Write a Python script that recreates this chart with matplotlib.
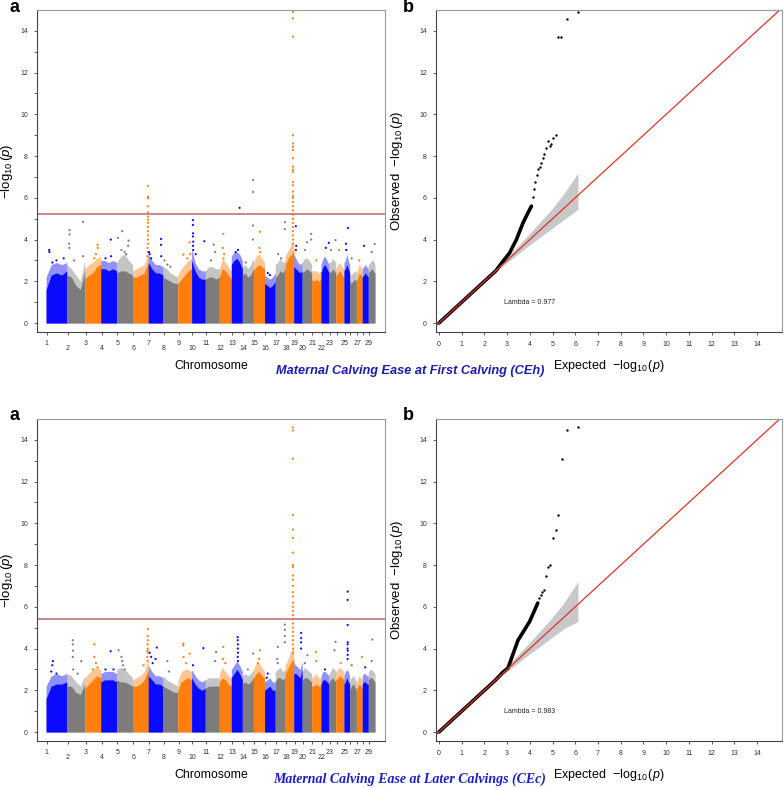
"""Manhattan + QQ plots for maternal calving ease (CEh / CEc)."""

import numpy as np
import matplotlib

matplotlib.use("Agg")
import matplotlib.pyplot as plt

plt.rcParams["font.family"] = ["Liberation Sans", "DejaVu Sans"]
plt.rcParams["mathtext.fontset"] = "custom"
plt.rcParams["mathtext.rm"] = "Liberation Sans"
plt.rcParams["mathtext.it"] = "Liberation Sans:italic"

# bovine autosome lengths (Mb), chromosome 1..29
CHR_LEN = [158, 137, 121, 121, 121, 119, 112, 113, 105, 104, 107, 91, 84, 84, 85,
           81, 75, 66, 64, 72, 71, 61, 52, 62, 43, 51, 45, 46, 51]
CHR_COLORS = ["#0a0aff", "#7c7c7c", "#ff7f0e"]
UNLABELED = [24, 26, 28]

# upper edge of the solid bulk / of the sparse dots, 5 samples along each chromosome
CEH_DENSE = [
    [1.6, 2.3, 2.4, 2.3, 2.5], [2.3, 2.2, 1.8, 1.6, 2.5], [2.1, 2.3, 2.4, 2.7, 2.8],
    [2.6, 2.6, 2.5, 2.6, 2.5], [2.4, 2.5, 2.5, 2.4, 2.3], [2.2, 2.2, 2.3, 2.4, 2.9],
    [2.9, 2.6, 2.4, 2.4, 2.3], [2.2, 2.1, 2.0, 1.9, 1.9], [1.9, 2.1, 2.3, 2.5, 2.6],
    [3.0, 2.5, 2.2, 2.1, 2.1], [2.1, 2.2, 2.2, 2.1, 2.2], [2.2, 2.6, 2.5, 2.3, 2.1],
    [2.8, 3.0, 3.1, 2.9, 2.6], [2.3, 2.4, 2.2, 2.3, 2.6], [2.5, 2.7, 2.8, 2.7, 2.6],
    [1.9, 1.8, 1.7, 1.8, 2.0], [2.2, 2.3, 2.5, 2.4, 2.6], [2.8, 3.0, 3.2, 3.3, 3.5],
    [2.7, 2.6, 2.5, 2.4, 2.5], [2.4, 2.5, 2.6, 2.5, 2.4], [2.1, 2.0, 2.1, 2.0, 2.1],
    [2.4, 2.7, 2.8, 2.6, 2.4], [2.5, 2.4, 2.6, 2.5, 2.4], [2.2, 2.4, 2.5, 2.3, 2.2],
    [2.5, 2.6, 2.8, 2.6, 2.4], [2.0, 1.9, 2.0, 2.1, 2.0], [2.0, 2.2, 2.4, 2.3, 2.2],
    [2.2, 2.3, 2.4, 2.3, 2.2], [2.4, 2.5, 2.6, 2.5, 2.4],
]
CEH_SPARSE = [
    [2.2, 2.8, 2.9, 2.8, 2.9], [2.8, 2.6, 2.3, 2.0, 3.0], [2.6, 2.8, 2.9, 3.1, 3.2],
    [3.0, 3.0, 2.9, 3.0, 2.9], [2.9, 3.2, 3.3, 3.0, 2.8], [2.5, 2.6, 2.7, 2.8, 3.4],
    [3.3, 3.0, 2.8, 2.8, 2.7], [2.7, 2.6, 2.4, 2.3, 2.2], [2.3, 2.6, 2.8, 3.0, 3.1],
    [3.6, 2.9, 2.6, 2.5, 2.5], [2.5, 2.7, 2.7, 2.6, 2.6], [2.6, 3.1, 2.9, 2.7, 2.5],
    [3.2, 3.4, 3.4, 3.3, 3.0], [2.7, 2.8, 2.6, 2.8, 3.1], [2.9, 3.2, 3.3, 3.1, 2.9],
    [2.3, 2.2, 2.1, 2.2, 2.4], [2.8, 2.9, 3.1, 2.9, 3.0], [3.2, 3.4, 3.6, 3.8, 4.0],
    [3.3, 3.1, 2.9, 2.8, 2.9], [2.9, 3.1, 3.1, 3.0, 2.8], [2.5, 2.5, 2.5, 2.4, 2.5],
    [2.8, 3.1, 3.2, 3.0, 2.8], [2.9, 2.9, 3.1, 3.0, 2.9], [2.6, 2.8, 2.9, 2.7, 2.6],
    [2.9, 3.0, 3.3, 3.0, 2.8], [2.4, 2.3, 2.4, 2.5, 2.4], [2.4, 2.6, 2.8, 2.7, 2.6],
    [2.6, 2.7, 2.8, 2.7, 2.6], [2.8, 2.9, 3.0, 3.0, 2.8],
]
# isolated SNPs above the bulk: (chromosome, fraction along chromosome, -log10 p)
CEH_HITS = [
    (1, .15, 3.5), (1, .16, 3.4), (1, .5, 3.0), (1, .3, 2.9), (1, .85, 3.1),
    (2, .15, 4.45), (2, .15, 4.25), (2, .12, 3.8), (2, .14, 3.6), (2, .9, 4.85), (2, .9, 3.2), (2, .4, 3.0),
    (3, .8, 3.75), (3, .82, 3.6), (3, .7, 3.3), (3, .6, 3.1),
    (4, .63, 4.0), (4, .65, 3.2), (4, .3, 3.1),
    (5, .08, 4.08), (5, .35, 4.4), (5, .75, 3.95), (5, .72, 3.7), (5, .5, 3.4), (5, .3, 3.5), (5, .6, 3.3),
    (6, .98, 6.57), (6, .98, 6.05), (6, .99, 5.98), (6, .98, 5.6), (6, .98, 5.3), (6, .99, 5.1),
    (6, .98, 4.95), (6, .98, 4.8), (6, .97, 4.6), (6, .98, 4.4), (6, .99, 4.2), (6, .97, 4.0),
    (6, .98, 3.8), (6, .96, 3.6), (6, .97, 3.4), (6, .95, 3.2),
    (7, .05, 3.4), (7, .1, 3.3), (7, .87, 4.03), (7, .87, 3.75), (7, .88, 3.2), (7, .2, 3.1),
    (8, .1, 3.0), (8, .3, 2.8), (8, .5, 2.7),
    (9, .4, 3.28), (9, .86, 3.87), (9, .9, 3.3), (9, .7, 3.1),
    (10, .1, 4.93), (10, .1, 4.7), (10, .11, 4.3), (10, .1, 4.15), (10, .12, 3.9), (10, .1, 3.7),
    (10, .12, 3.5), (10, .93, 3.92), (10, .3, 3.3),
    (11, .6, 3.76), (11, .7, 3.4), (11, .4, 3.0),
    (12, .33, 4.27), (12, .3, 3.6), (12, .4, 3.3), (12, .35, 3.1),
    (13, .75, 5.52), (13, .6, 3.5), (13, .4, 3.4),
    (14, .98, 6.85), (14, .98, 6.28), (14, .97, 4.67), (14, .95, 4.0), (14, .3, 2.9),
    (15, .58, 4.37), (15, .55, 3.6), (15, .6, 3.4),
    (16, .3, 2.4), (16, .5, 2.3),
    (17, .3, 3.3), (17, .98, 4.83), (17, .97, 4.5), (17, .6, 3.1),
    (18, .9, 14.9), (18, .9, 14.6), (18, .9, 13.73), (18, .9, 9.0), (18, .9, 8.6), (18, .91, 8.45),
    (18, .9, 8.3), (18, .9, 7.9), (18, .9, 7.5), (18, .91, 7.35), (18, .9, 7.25), (18, .9, 6.75),
    (18, .91, 6.6), (18, .9, 6.3), (18, .91, 6.1), (18, .9, 6.0), (18, .9, 5.8), (18, .91, 5.6),
    (18, .9, 5.4), (18, .91, 5.2), (18, .9, 5.0), (18, .9, 4.8), (18, .91, 4.6), (18, .9, 4.4),
    (18, .89, 4.2), (18, .91, 4.0), (18, .88, 3.8),
    (19, .25, 4.64), (19, .3, 3.7), (19, .25, 3.5),
    (20, .5, 3.87), (20, .95, 4.27), (20, .95, 4.0), (20, .3, 3.5),
    (21, .5, 3.0), (22, .98, 3.84), (22, .6, 3.6),
    (23, .95, 3.97), (23, .3, 3.5), (24, .4, 3.5),
    (25, .7, 4.55), (25, .35, 3.8), (25, .4, 3.5),
    (26, .3, 3.1), (27, .5, 3.0), (28, .3, 3.7), (29, .95, 3.79), (29, .5, 3.4),
]
CEH_THRESHOLD = 5.23

CEC_DENSE = [
    [1.6, 2.2, 2.3, 2.3, 2.4], [2.2, 2.2, 1.9, 1.8, 2.3], [2.1, 2.3, 2.5, 2.7, 2.6],
    [2.4, 2.5, 2.5, 2.5, 2.4], [2.5, 2.4, 2.4, 2.3, 2.2], [2.2, 2.2, 2.3, 2.5, 3.0],
    [2.7, 2.5, 2.3, 2.3, 2.2], [2.2, 2.1, 2.0, 1.9, 1.9], [2.0, 2.4, 2.5, 2.6, 2.5],
    [2.6, 2.3, 2.1, 2.0, 2.1], [2.1, 2.2, 2.2, 2.2, 2.2], [2.4, 2.6, 2.5, 2.3, 2.2],
    [2.6, 2.8, 3.0, 2.8, 2.5], [2.3, 2.4, 2.3, 2.4, 2.6], [2.6, 2.8, 2.9, 2.7, 2.6],
    [2.0, 2.1, 2.2, 2.0, 2.0], [2.4, 2.6, 2.6, 2.5, 2.6], [2.8, 3.0, 3.2, 3.4, 3.5],
    [2.8, 2.8, 2.7, 2.6, 3.0], [2.5, 2.6, 2.6, 2.5, 2.4], [2.2, 2.2, 2.3, 2.2, 2.2],
    [2.3, 2.5, 2.5, 2.4, 2.3], [2.4, 2.5, 2.6, 2.5, 2.4], [2.5, 2.6, 2.7, 2.6, 2.5],
    [2.3, 2.4, 2.6, 2.4, 2.3], [2.0, 2.2, 2.3, 2.2, 2.0], [2.0, 2.2, 2.3, 2.2, 2.1],
    [2.3, 2.4, 2.4, 2.3, 2.3], [2.5, 2.6, 2.6, 2.5, 2.4],
]
CEC_SPARSE = [
    [2.2, 2.7, 2.8, 2.7, 2.8], [2.8, 2.7, 2.4, 2.2, 2.7], [2.6, 2.8, 3.0, 3.1, 3.0],
    [2.8, 2.9, 2.9, 2.9, 2.8], [3.0, 3.1, 3.0, 2.8, 2.6], [2.5, 2.6, 2.7, 2.9, 3.5],
    [3.2, 2.9, 2.7, 2.7, 2.6], [2.7, 2.5, 2.4, 2.3, 2.2], [2.4, 2.9, 3.0, 3.0, 2.9],
    [3.0, 2.7, 2.5, 2.4, 2.5], [2.5, 2.6, 2.6, 2.6, 2.6], [2.8, 3.1, 2.9, 2.7, 2.6],
    [3.0, 3.2, 3.4, 3.2, 2.9], [2.7, 2.8, 2.7, 2.8, 3.0], [3.0, 3.3, 3.3, 3.1, 2.9],
    [2.4, 2.5, 2.6, 2.4, 2.4], [2.9, 3.0, 3.1, 2.9, 3.0], [3.2, 3.4, 3.7, 3.9, 4.1],
    [3.3, 3.2, 3.1, 3.0, 3.4], [2.9, 3.1, 3.0, 2.9, 2.8], [2.6, 2.7, 2.8, 2.6, 2.6],
    [2.7, 2.9, 2.9, 2.8, 2.7], [2.8, 2.9, 3.1, 3.0, 2.9], [2.9, 3.0, 3.1, 3.0, 2.9],
    [2.7, 2.9, 3.0, 2.9, 2.7], [2.4, 2.6, 2.7, 2.6, 2.4], [2.4, 2.6, 2.7, 2.6, 2.5],
    [2.7, 2.8, 2.8, 2.7, 2.7], [2.9, 3.0, 3.0, 2.9, 2.8],
]
CEC_HITS = [
    (1, .33, 3.4), (1, .3, 3.2), (1, .25, 2.9), (1, .5, 2.8),
    (2, .33, 4.4), (2, .33, 4.2), (2, .34, 3.9), (2, .33, 3.6), (2, .35, 3.0), (2, .8, 3.4), (2, .6, 2.8),
    (3, .6, 4.2), (3, .6, 3.6), (3, .7, 3.3), (3, .8, 3.1), (3, .5, 3.0),
    (4, .62, 3.87), (4, .3, 3.0), (4, .8, 3.0),
    (5, .12, 3.92), (5, .3, 3.6), (5, .35, 3.4), (5, .4, 3.2), (5, .5, 3.0),
    (6, .98, 4.93), (6, .97, 4.6), (6, .98, 4.4), (6, .96, 4.2), (6, .97, 4.0), (6, .95, 3.9),
    (6, .97, 3.8), (6, .95, 3.6), (6, .96, 3.4), (6, .7, 3.2),
    (7, .1, 3.8), (7, .2, 3.6), (7, .3, 3.3), (7, .58, 4.05), (7, .5, 3.5),
    (8, .3, 3.4), (8, .4, 2.9),
    (9, .4, 4.24), (9, .4, 4.15), (9, .42, 3.6), (9, .86, 3.76), (9, .6, 3.3),
    (10, .86, 4.02), (10, .1, 3.2),
    (11, .77, 3.84), (11, .7, 3.4),
    (12, .33, 4.08), (12, .3, 3.5), (12, .5, 3.3),
    (13, .58, 4.55), (13, .58, 4.4), (13, .6, 4.2), (13, .58, 4.0), (13, .6, 3.8), (13, .58, 3.6), (13, .6, 3.4),
    (14, .98, 3.76), (14, .5, 3.0),
    (15, .58, 3.92), (15, .5, 3.5), (15, .4, 3.3),
    (16, .3, 2.8), (16, .2, 2.6),
    (17, .27, 4.08), (17, .2, 3.5), (17, .25, 3.3),
    (17, .98, 5.15), (17, .98, 4.9), (17, .97, 4.6), (17, .97, 4.3),
    (18, .9, 14.6), (18, .9, 14.45), (18, .9, 13.1), (18, .9, 10.4), (18, .9, 9.7), (18, .91, 9.3),
    (18, .9, 8.6), (18, .9, 8.0), (18, .91, 7.9), (18, .9, 7.5), (18, .9, 7.3), (18, .91, 7.0),
    (18, .9, 6.7), (18, .9, 6.5), (18, .91, 6.2), (18, .9, 6.0), (18, .9, 5.8), (18, .91, 5.6),
    (18, .9, 5.4), (18, .91, 5.2), (18, .9, 5.0), (18, .9, 4.8), (18, .91, 4.6), (18, .9, 4.4),
    (18, .89, 4.2), (18, .91, 4.0), (18, .88, 3.8),
    (19, .88, 4.75), (19, .88, 4.5), (19, .87, 4.3), (19, .88, 4.0),
    (20, .55, 3.68), (20, .3, 3.3),
    (21, .45, 3.84), (21, .5, 3.4), (22, .5, 3.0),
    (23, .8, 3.92), (23, .95, 4.32), (24, .6, 3.3),
    (25, .65, 6.73), (25, .65, 6.33), (25, .65, 5.13), (25, .66, 4.3), (25, .65, 4.2),
    (25, .64, 4.0), (25, .66, 3.9), (25, .65, 3.7), (25, .64, 3.5),
    (26, .3, 3.2), (27, .95, 3.6), (28, .5, 3.1), (29, .6, 4.43), (29, .5, 3.4),
]
CEC_THRESHOLD = 5.42

# QQ: bulk of the observed curve (drawn as a thick line) and the sparse tail
CEH_QQ_X = [0.0, 1.0, 2.0, 2.5, 2.82, 3.11, 3.41, 3.7, 3.92, 4.07]
CEH_QQ_Y = [0.0, 1.0, 2.0, 2.5, 2.96, 3.36, 4.0, 4.8, 5.28, 5.6]
CEH_TAIL_X = [4.14, 4.2, 4.22, 4.3, 4.36, 4.45, 4.51, 4.58, 4.61, 4.7, 4.8, 4.88, 4.95, 5.0, 5.15,
              5.24, 5.39, 5.62, 6.1]
CEH_TAIL_Y = [6.05, 6.4, 6.77, 7.1, 7.4, 7.5, 7.67, 7.9, 8.1, 8.4, 8.74, 8.5, 8.6, 8.85, 9.0,
              13.73, 13.73, 14.57, 14.9]
CEH_BAND_X = [2.3, 3.0, 4.0, 5.0, 5.5, 6.12]
CEH_BAND_LO = [2.25, 2.9, 3.75, 4.55, 4.95, 5.45]
CEH_BAND_HI = [2.35, 3.15, 4.3, 5.5, 6.2, 7.2]
CEH_LAMBDA = 0.977

CEC_QQ_X = [0.0, 1.0, 2.0, 2.5, 2.8, 3.04, 3.48, 3.99, 4.35]
CEC_QQ_Y = [0.0, 1.0, 2.0, 2.5, 2.85, 3.07, 4.4, 5.29, 6.18]
CEC_TAIL_X = [4.42, 4.5, 4.55, 4.64, 4.72, 4.8, 4.9, 5.0, 5.15, 5.24, 5.42, 5.62, 6.1]
CEC_TAIL_Y = [6.4, 6.55, 6.7, 6.8, 7.5, 7.9, 8.0, 9.3, 9.7, 10.4, 13.1, 14.45, 14.6]
CEC_BAND_X = [2.3, 3.0, 4.0, 5.0, 5.5, 6.12]
CEC_BAND_LO = [2.25, 2.9, 3.75, 4.55, 4.95, 5.3]
CEC_BAND_HI = [2.35, 3.15, 4.3, 5.5, 6.2, 7.2]
CEC_LAMBDA = 0.983

W, H = 784, 788
MAN_YLIM = (-0.43, 15.0)


def axes_rect(x0, x1, y0, y1):
    return [x0 / W, 1 - y1 / H, (x1 - x0) / W, (y1 - y0) / H]


def style_box(ax):
    for side in ("left", "bottom"):
        ax.spines[side].set_color("#444444")
    for side in ("top", "right"):
        ax.spines[side].set_color("#9a9a9a")
    for sp in ax.spines.values():
        sp.set_linewidth(0.8)
    ax.tick_params(length=2.5, width=0.6, color="#444444", labelsize=5,
                   labelcolor="#333333", pad=4)


def manhattan(ax, dense, sparse, hits, threshold):
    starts = np.concatenate([[0], np.cumsum(CHR_LEN)[:-1]])
    for i, length in enumerate(CHR_LEN):
        color = CHR_COLORS[i % 3]
        xs = starts[i] + np.linspace(0, length, len(dense[i]))
        ax.fill_between(xs, 0, sparse[i], color=color, alpha=0.45, lw=0)
        ax.fill_between(xs, 0, dense[i], color=color, lw=0)
    hx = [starts[c - 1] + f * CHR_LEN[c - 1] for c, f, _ in hits]
    hy = [y for _, _, y in hits]
    hc = [CHR_COLORS[(c - 1) % 3] for c, _, _ in hits]
    ax.scatter(hx, hy, s=2.5, c=hc, lw=0)
    ax.axhline(threshold, color="#b86a6a", lw=1.1)

    ax.set_xlim(-69, sum(CHR_LEN) + 76)
    ax.set_ylim(*MAN_YLIM)
    ax.set_yticks(range(0, 15, 2))
    ax.set_yticks(range(1, 15, 2), minor=True)
    ax.tick_params(axis="y", which="minor", length=2.5, width=0.6, color="#444444")
    ax.set_xticks(starts + 6)
    ax.set_xticklabels([])
    trans = ax.get_xaxis_transform()
    for i, x in enumerate(starts + 6):
        chrom = i + 1
        if chrom in UNLABELED:
            continue
        dy = -0.037 if chrom % 2 else -0.05
        ax.text(x, dy, str(chrom), transform=trans, ha="center", va="center",
                fontsize=5, color="#333333")
    ax.set_xlabel("Chromosome", fontsize=8.8)
    ax.xaxis.set_label_coords(0.5, -0.088)
    ax.set_ylabel(r"$-\log_{10}(p)$", fontsize=9.5)
    ax.yaxis.set_label_coords(-0.063, 0.5)
    style_box(ax)


def qq(ax, line_x, line_y, tail_x, tail_y, band_x, band_lo, band_hi, lam):
    ax.fill_between(band_x, band_lo, band_hi, color="#c8c8c8", lw=0)
    ax.plot(line_x, line_y, color="black", lw=2.6, solid_capstyle="round")
    ax.scatter(tail_x, tail_y, s=3, c="black", lw=0)
    ax.axline((0, 0), (1, 1), color="#e0332c", lw=0.9)
    ax.text(4.0, 0.96, f"Lambda = {lam}", fontsize=5, ha="center", va="center",
            color="#222222")
    ax.set_xlim(-0.13, 15.1)
    ax.set_ylim(*MAN_YLIM)
    ax.set_xticks(range(0, 15))
    ax.set_yticks(range(0, 15, 2))
    ax.set_xlabel(r"Expected  $-\log_{10}(p)$", fontsize=9)
    ax.xaxis.set_label_coords(0.5, -0.08)
    ax.set_ylabel(r"Observed  $-\log_{10}(p)$", fontsize=9.5)
    ax.yaxis.set_label_coords(-0.09, 0.5)
    style_box(ax)


fig = plt.figure(figsize=(W / 100, H / 100), dpi=100)
ax_a1 = fig.add_axes(axes_rect(37, 385, 10, 332))
ax_b1 = fig.add_axes(axes_rect(436, 782, 10, 332))
ax_a2 = fig.add_axes(axes_rect(37, 385, 419, 741))
ax_b2 = fig.add_axes(axes_rect(436, 782, 419, 741))

manhattan(ax_a1, CEH_DENSE, CEH_SPARSE, CEH_HITS, CEH_THRESHOLD)
qq(ax_b1, CEH_QQ_X, CEH_QQ_Y, CEH_TAIL_X, CEH_TAIL_Y,
   CEH_BAND_X, CEH_BAND_LO, CEH_BAND_HI, CEH_LAMBDA)
manhattan(ax_a2, CEC_DENSE, CEC_SPARSE, CEC_HITS, CEC_THRESHOLD)
qq(ax_b2, CEC_QQ_X, CEC_QQ_Y, CEC_TAIL_X, CEC_TAIL_Y,
   CEC_BAND_X, CEC_BAND_LO, CEC_BAND_HI, CEC_LAMBDA)

for x, y, letter in [(14, 8, "a"), (408, 7, "b"), (14, 416, "a"), (408, 415, "b")]:
    fig.text(x / W, 1 - y / H, letter, fontsize=13, fontweight="bold",
             ha="center", va="center")

fig.text(410 / W, 1 - 371 / H, "Maternal Calving Ease at First Calving (CEh)",
         fontsize=9.2, fontweight="bold", style="italic", color="#1c1cae",
         ha="center", va="center")
fig.text(410 / W, 1 - 779 / H, "Maternal Calving Ease at Later Calvings (CEc)",
         fontsize=10, fontweight="bold", style="italic", color="#1c1cc8",
         family="Liberation Serif", ha="center", va="center")

fig.savefig("out.png", dpi=100)
